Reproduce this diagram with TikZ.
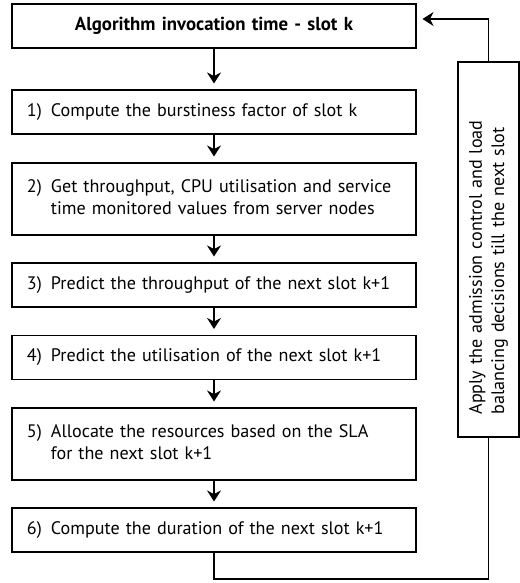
\documentclass[tikz,border=0pt]{standalone}
\usepackage{fontspec}
\setmainfont{PT Sans}
\usepackage{tikz}
\usetikzlibrary{arrows.meta}

\newcommand{\steptext}[2]{\begin{tabular}{@{}p{0.48cm}@{}l@{}}#1 & #2\end{tabular}}

\begin{document}
\begin{tikzpicture}[->, >={Stealth[length=0.22cm,width=0.28cm]}, shorten >=0.12cm, line width=0.6pt, font=\fontsize{10.3}{12.6}\selectfont, stepbox/.style={rectangle, draw, text width=7.48cm, inner xsep=0.3cm, inner ysep=0pt, minimum height=0.88cm, align=left}, titlebox/.style={stepbox, align=center, font=\fontsize{10.7}{12.6}\selectfont\bfseries}, sidebox/.style={rectangle, draw, rotate=90, text width=6.6cm, inner xsep=0.45cm, minimum height=1.22cm, align=left}]

\useasboundingbox (0,0) rectangle (10.4,-11.66);

\node[titlebox] (B0) at (4.28,-0.52) {Algorithm invocation time - slot k};
\node[stepbox] (B1) at (4.28,-2.24) {\steptext{1)}{Compute the burstiness factor of slot k}};
\node[stepbox, minimum height=1.44cm] (B2) at (4.28,-3.98) {\steptext{2)}{Get throughput, CPU utilisation and service\\ & time monitored values from server nodes}};
\node[stepbox] (B3) at (4.28,-5.70) {\steptext{3)}{Predict the throughput of the next slot k+1}};
\node[stepbox] (B4) at (4.28,-7.15) {\steptext{4)}{Predict the utilisation of the next slot k+1}};
\node[stepbox, minimum height=1.44cm] (B5) at (4.28,-8.88) {\steptext{5)}{Allocate the resources based on the SLA\\ & for the next slot k+1}};
\node[stepbox] (B6) at (4.28,-10.60) {\steptext{6)}{Compute the duration of the next slot k+1}};

\node[sidebox] (S) at (9.77,-4.99) {Apply the admission control and load\\balancing decisions till the next slot};

\coordinate (loop) at (4.28,-11.58);

\foreach \from/\to in {B0/B1,B1/B2,B2/B3,B3/B4,B4/B5,B5/B6}
    \draw (\from) -- (\to);

\draw[-, shorten >=0pt] (B6) -- (loop) -| (S);
\draw (S) |- ([yshift=0.14cm]B0.east);
\end{tikzpicture}
\end{document}
